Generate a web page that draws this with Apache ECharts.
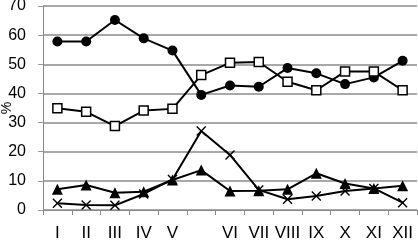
<!DOCTYPE html>
<html>
<head>
<meta charset="utf-8">
<script src="https://cdn.jsdelivr.net/npm/echarts@6/dist/echarts.min.js"></script>
<style>
html,body{margin:0;padding:0;background:#fff;}
#chart{width:418px;height:241px;}
</style>
</head>
<body>
<div id="chart"></div>
<script>
var months = ['I','II','III','IV','V','','VI','VII','VIII','IX','X','XI','XII'];
var yTicks = [0,10,20,30,40,50,60,70];

var circleData = [57.8,57.8,65.2,58.9,54.7,39.5,42.7,42.3,48.7,46.9,43.2,45.5,51.2];
var squareData = [34.9,33.7,28.8,34.1,34.7,46.3,50.5,50.8,44.0,41.1,47.5,47.5,41.1];
var triangleData = [7.1,8.6,5.9,6.3,10.3,13.7,6.5,6.6,7.1,12.6,9.1,7.4,8.3];
var crossData = [2.3,1.7,1.6,5.5,10.5,27.1,18.9,6.9,3.7,4.8,6.5,7.4,2.5];

var crossPath = 'path://M0,1L1,0L5,4L9,0L10,1L6,5L10,9L9,10L5,6L1,10L0,9L4,5Z';

function makeSeries(data, symbol, size, fill){
    return {
        type: 'line',
        data: data,
        symbol: symbol,
        symbolSize: size,
        showAllSymbol: true,
        animation: false,
        lineStyle: {color: '#000', width: 2},
        itemStyle: {
            color: fill,
            borderColor: '#000',
            borderWidth: fill == '#fff' ? 1.5 : 0
        },
        z: 3
    };
}

var myChart = echarts.init(document.getElementById('chart'));
var option = {
    backgroundColor: '#fff',
    animation: false,
    grid: {left: 43, right: 1, top: 6, bottom: 31, outerBoundsMode: 'none', containLabel: false},
    xAxis: {
        type: 'category',
        data: months,
        boundaryGap: true,
        axisLine: {lineStyle: {color: '#888', width: 1}},
        axisTick: {show: true, length: 5, lineStyle: {color: '#888'}},
        axisLabel: {
            color: '#000', fontSize: 17, fontFamily: 'Liberation Sans, Arial',
            margin: 15, interval: 0
        }
    },
    yAxis: {
        type: 'value',
        min: 0, max: 70, interval: 10,
        name: '%',
        nameLocation: 'middle',
        nameRotate: 90,
        nameGap: 29,
        nameMoveOverlap: false,
        nameTextStyle: {color: '#000', fontSize: 14, fontFamily: 'Liberation Sans, Arial'},
        axisLine: {show: true, lineStyle: {color: '#888', width: 1}},
        axisTick: {show: true, length: 5, lineStyle: {color: '#999'}},
        splitLine: {lineStyle: {color: '#a8a8a8', width: 2}},
        axisLabel: {
            color: '#000', fontSize: 16, fontFamily: 'Liberation Sans, Arial', margin: 17,
            formatter: function(v){ return yTicks.indexOf(v) >= 0 ? String(v) : ''; }
        }
    },
    series: [
        makeSeries(circleData, 'circle', 10, '#000'),
        makeSeries(squareData, 'rect', 9, '#fff'),
        makeSeries(triangleData, 'triangle', 11, '#000'),
        makeSeries(crossData, crossPath, 10, '#000')
    ]
};
myChart.setOption(option);
</script>
</body>
</html>
